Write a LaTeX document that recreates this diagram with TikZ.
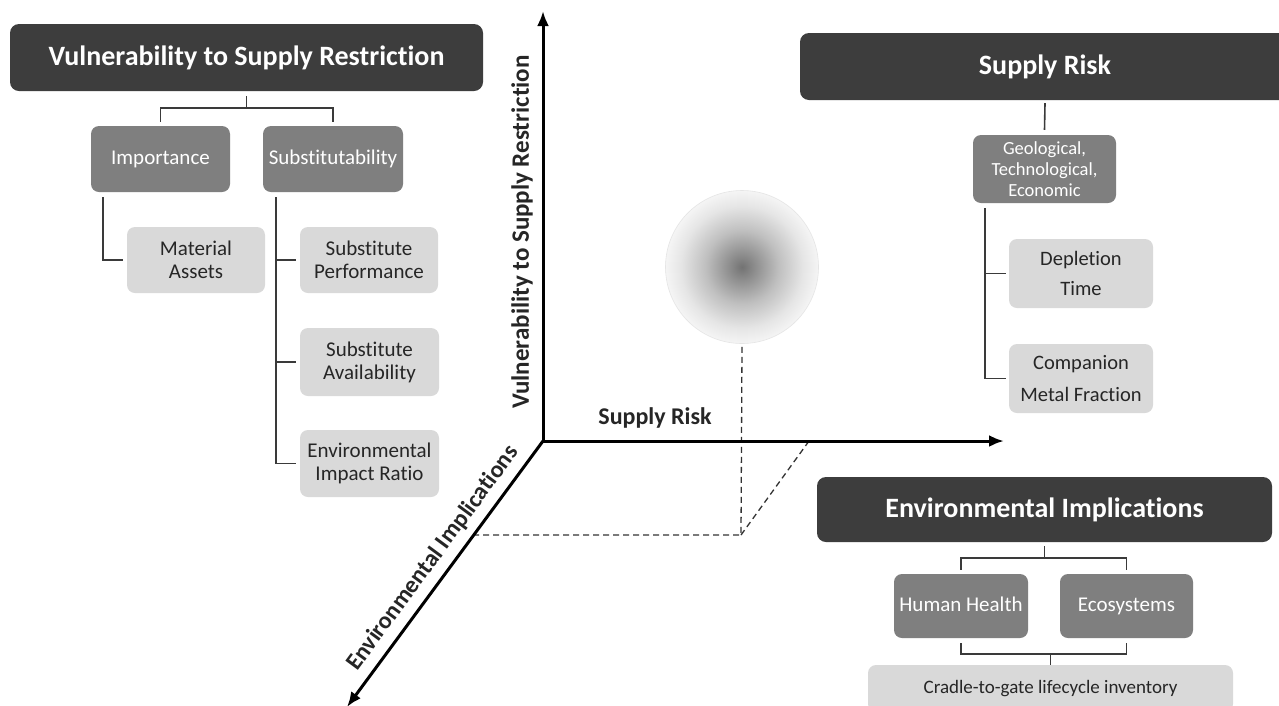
\documentclass[tikz,border=0pt]{standalone}
\usepackage{fontspec}
\setmainfont{Carlito}[Ligatures=NoCommon]
\usetikzlibrary{arrows.meta}
\definecolor{hdrgray}{HTML}{3D3D3D}
\definecolor{midgray}{HTML}{7F7F7F}
\definecolor{litegray}{HTML}{D9D9D9}
\definecolor{txtdark}{HTML}{262626}
\definecolor{lingray}{HTML}{3A3A3A}
\pgfdeclareradialshading{sphshade}{\pgfpoint{0bp}{0bp}}{color(0bp)=(black!55); color(4bp)=(black!45); color(12bp)=(black!25); color(20bp)=(black!10); color(25bp)=(black!4); color(50bp)=(black!4)}
\tikzset{
  hdr/.style={fill=hdrgray, rounded corners=9pt, text=white, inner sep=0pt,
    font=\bfseries\fontsize{28}{34}\selectfont},
  midbox/.style={fill=midgray, rounded corners=8pt, text=white, inner sep=0pt, align=center,
    font=\fontsize{21}{24}\selectfont},
  litebox/.style={fill=litegray, rounded corners=8pt, text=txtdark, inner sep=0pt, align=center,
    font=\fontsize{21}{23}\selectfont},
  oneline/.style={text height=14pt, text depth=4pt},
  conn/.style={draw=lingray, line width=1.6pt},
  axis/.style={draw=black, line width=3pt, -{Latex[length=15pt,width=12pt]}},
  guide/.style={draw=black!80, line width=1.3pt, dash pattern=on 6pt off 4pt},
  axlabel/.style={text=txtdark, font=\bfseries\fontsize{24}{28}\selectfont, inner sep=0pt}
}
\begin{document}
\begin{tikzpicture}[x=1pt,y=-1pt]
\useasboundingbox (0,0) rectangle (1279,705);
\clip (0,0) rectangle (1279,705);
\fill[white] (0,0) rectangle (1279,705);

% ---------- left tree ----------
\node[hdr, minimum width=473pt, minimum height=67pt] (vsr) at (246.5,57.5) {Vulnerability to Supply Restriction};
\node[midbox, oneline, minimum width=139pt, minimum height=66pt] (imp) at (160.5,159) {Importance};
\node[midbox, oneline, minimum width=140pt, minimum height=66pt] (sub) at (333,159) {Substitutability};
\node[litebox, minimum width=138pt, minimum height=66pt] (mat) at (196,260) {Material\\Assets};
\node[litebox, minimum width=138pt, minimum height=66pt] (sperf) at (369,260) {Substitute\\Performance};
\node[litebox, minimum width=139pt, minimum height=68pt] (savail) at (369.5,362) {Substitute\\Availability};
\node[litebox, minimum width=139pt, minimum height=67pt] (envr) at (369.5,463.5) {Environmental\\Impact Ratio};

\draw[conn] ([yshift=-5pt]vsr.south) -- ++(0,12) coordinate (vj);
\draw[conn] ([yshift=4pt]imp.north) |- (vj) -| ([yshift=4pt]sub.north);
\draw[conn] ([xshift=12pt,yshift=-5pt]imp.south west) |- ([xshift=-4pt]mat.west);
\coordinate (st) at ([xshift=13pt,yshift=-5pt]sub.south west);
\draw[conn] (st) |- ([xshift=-4pt]envr.west);
\draw[conn] (st |- sperf.west) -- ([xshift=-4pt]sperf.west);
\draw[conn] (st |- savail.west) -- ([xshift=-4pt]savail.west);

% ---------- right tree ----------
\node[hdr, minimum width=490pt, minimum height=67pt] (sr) at (1045,66.5) {Supply Risk};
\node[midbox, minimum width=143pt, minimum height=68pt, font=\fontsize{18.5}{21}\selectfont] (geo) at (1044.5,169) {Geological,\\Technological,\\Economic};
\node[litebox, minimum width=144pt, minimum height=69pt, font=\fontsize{20.5}{30}\selectfont] (dep) at (1081,273.5) {Depletion\\Time};
\node[litebox, minimum width=144pt, minimum height=69pt, font=\fontsize{20.5}{32}\selectfont] (comp) at (1081,378.5) {Companion\\Metal Fraction};

\draw[conn] ([yshift=-3pt]sr.south) -- ([yshift=5pt]geo.north);
\coordinate (gt) at ([xshift=12pt,yshift=-5pt]geo.south west);
\draw[conn] (gt) |- ([xshift=-3pt]comp.west);
\draw[conn] (gt |- dep.west) -- ([xshift=-3pt]dep.west);

% ---------- bottom-right tree ----------
\node[hdr, minimum width=455pt, minimum height=65pt] (ei) at (1044.5,509.5) {Environmental Implications};
\node[midbox, oneline, minimum width=134pt, minimum height=64pt] (hh) at (961,606) {Human Health};
\node[midbox, oneline, minimum width=133pt, minimum height=64pt] (eco) at (1126.5,606) {Ecosystems};
\node[litebox, oneline, minimum width=365pt, minimum height=47pt, font=\fontsize{19}{22}\selectfont] (cradle) at (1050.5,688.5) {Cradle-to-gate lifecycle inventory};

\draw[conn] ([yshift=-4pt]ei.south) -- ++(0,12) coordinate (ej);
\draw[conn] ([yshift=4pt]hh.north) |- (ej) -| ([yshift=4pt]eco.north);
\draw[conn] ([yshift=-5pt]hh.south) |- ([yshift=11pt]cradle.north) -| ([yshift=-5pt]eco.south);
\draw[conn] (cradle.north) -- ([yshift=11pt]cradle.north);

% ---------- axes ----------
\coordinate (O) at (543,441);
\coordinate (Vt) at (543,11);
\coordinate (Ht) at (1004,441);
\coordinate (Dt) at (347,707);
\coordinate (P) at (741,535);
\coordinate (Pa) at (474,535);
\coordinate (Ph) at (809,441);

\node[circle, minimum size=153pt, inner sep=0pt, draw=black!10, line width=0.6pt,
      shading=sphshade] (sph) at (742,267) {};

\draw[guide] ([yshift=-3pt]sph.south) -- (P) -- (Pa);
\draw[guide] (P) -- (Ph);

\draw[axis] (O) -- (Vt);
\draw[axis] (O) -- (Ht);
\draw[axis] (O) -- (Dt);

\node[axlabel] (lsr) at (655,418) {Supply Risk};
\node[axlabel, rotate=90, font=\bfseries\fontsize{25}{28}\selectfont] (lvsr) at (522,232) {Vulnerability to Supply Restriction};
\node[axlabel, rotate=53.6] (lei) at (433,558) {Environmental Implications};
\end{tikzpicture}
\end{document}
